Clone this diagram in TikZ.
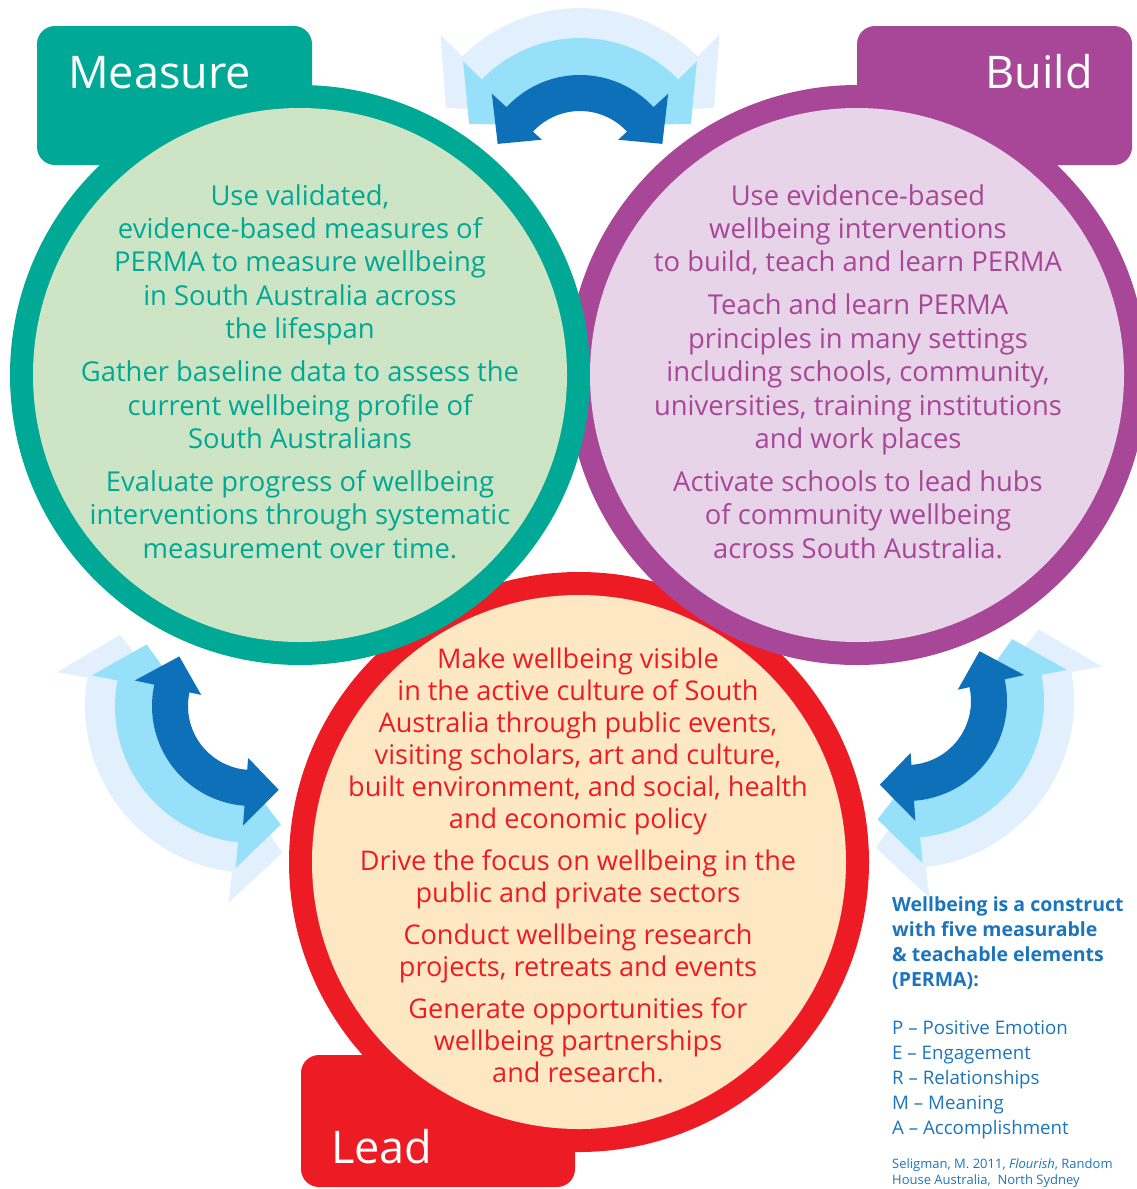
\documentclass[tikz,border=0pt]{standalone}
\usepackage{fontspec}
\setmainfont{Open Sans}
\definecolor{mteal}{RGB}{0,168,150}
\definecolor{mgreen}{RGB}{206,229,197}
\definecolor{bpurple}{RGB}{168,71,152}
\definecolor{blilac}{RGB}{231,212,232}
\definecolor{lred}{RGB}{237,28,36}
\definecolor{lpeach}{RGB}{254,232,196}
\definecolor{sblue}{RGB}{28,117,188}
\definecolor{adark}{RGB}{13,112,185}
\definecolor{alight}{RGB}{150,224,250}
\definecolor{avlight}{RGB}{225,240,252}
\newcommand{\darkdims}{\def\arRi{64}\def\arRo{100}\def\arRbi{52}\def\arRbo{120}\def\arRt{88}\def\arHh{22}\def\arShr{0}}
\newcommand{\lightdims}{\def\arRi{88}\def\arRo{137}\def\arRbi{72}\def\arRbo{163}\def\arRt{122}\def\arHh{19.5}\def\arShr{1.5}}
\newcommand{\vlightdims}{\def\arRi{107}\def\arRo{167}\def\arRbi{88}\def\arRbo{198}\def\arRt{150}\def\arHh{18.5}\def\arShr{2.5}}
\newcommand{\carrow}[4]{%
  \pgfmathsetmacro{\arA}{#2+\arShr}%
  \pgfmathsetmacro{\arB}{#3-\arShr}%
  \fill[#4, shift={#1}] (\arA:\arRo) arc[start angle=\arA, end angle=\arB, radius=\arRo]
    -- (\arB:\arRbo) -- ({\arB+\arHh}:\arRt) -- (\arB:\arRbi) -- (\arB:\arRi)
    arc[start angle=\arB, end angle=\arA, radius=\arRi]
    -- (\arA:\arRbi) -- ({\arA-\arHh}:\arRt) -- (\arA:\arRbo) -- cycle;
}
\begin{document}
\begin{tikzpicture}[x=1pt,y=-1pt,
  titletext/.style={text=white, font=\fontsize{45}{54}\selectfont, inner sep=0pt},
  bodytext/.style={align=center, inner sep=0pt, font=\fontsize{27.4}{33.4}\selectfont},
  leadtext/.style={align=center, inner sep=0pt, font=\fontsize{27.1}{32}\selectfont, text=lred},
  sidebold/.style={align=left, inner sep=0pt, text=sblue, font=\bfseries\fontsize{19.5}{25}\selectfont},
  sidelist/.style={align=left, inner sep=0pt, text=sblue, font=\fontsize{18.7}{24.8}\selectfont},
  sidecite/.style={align=left, inner sep=0pt, text=sblue, font=\fontsize{13}{16}\selectfont}]
\useasboundingbox (0,0) rectangle (1137,1189);
\clip (0,0) rectangle (1137,1189);

% ---- arrows (back to front) ----
\vlightdims
\carrow{(580,175)}{-137.3}{-42.7}{avlight}
\carrow{(252,706)}{94.3}{192.3}{avlight}
\carrow{(907,701)}{-12.5}{86}{avlight}
\lightdims
\carrow{(580,175)}{-137.3}{-42.7}{alight}
\carrow{(252,706)}{94.3}{192.3}{alight}
\carrow{(907,701)}{-12.5}{86}{alight}
\darkdims
\carrow{(580,175)}{-137.3}{-42.7}{adark}
\carrow{(252,706)}{94.3}{192.3}{adark}
\carrow{(907,701)}{-12.5}{86}{adark}

% ---- rings and tabs ----
\fill[lred, rounded corners=18] (301,1055) rectangle (575,1187);
\fill[lred] (579,862) circle[radius=290];
\fill[bpurple, rounded corners=18] (857,26) rectangle (1132,165);
\fill[bpurple] (857,375) circle[radius=290];
\fill[mteal, rounded corners=18] (37,26) rectangle (312,165);
\fill[mteal] (300,375) circle[radius=290];

% ---- inner fills ----
\fill[lpeach] (579,862) circle[radius=267];
\fill[blilac] (857,375) circle[radius=267];
\fill[mgreen] (300,375) circle[radius=267];

% ---- titles ----
\node[titletext, anchor=base west] (tmeasure) at (68,88) {Measure};
\node[titletext, anchor=base east] (tbuild) at (1093,88) {Build};
\node[titletext, anchor=base west] (tlead) at (331,1163) {Lead};

% ---- body texts ----
\node[bodytext, text=mteal, anchor=north] (measuretext) at (300,184)
 {Use validated,\\evidence-based measures of\\PERMA to measure wellbeing\\in South Australia across\\the lifespan\\[9.6pt]Gather baseline data to assess the\\current wellbeing profile of\\South Australians\\[9.6pt]Evaluate progress of wellbeing\\interventions through systematic\\measurement over time.};
\node[bodytext, text=bpurple, anchor=north] (buildtext) at (858,184)
 {Use evidence-based\\wellbeing interventions\\to build, teach and learn PERMA\\[9.6pt]Teach and learn PERMA\\principles in many settings\\including schools, community,\\universities, training institutions\\and work places\\[9.6pt]Activate schools to lead hubs\\of community wellbeing\\across South Australia.};
\node[leadtext, anchor=north] (leadtext) at (578,648)
 {Make wellbeing visible\\in the active culture of South\\Australia through public events,\\visiting scholars, art and culture,\\built environment, and social, health\\and economic policy\\[10pt]Drive the focus on wellbeing in the\\public and private sectors\\[10pt]Conduct wellbeing research\\projects, retreats and events\\[10pt]Generate opportunities for\\wellbeing partnerships\\and research.};

% ---- side text ----
\node[sidebold, anchor=north west] (permahead) at (892,896)
 {Wellbeing is a construct\\with five measurable\\\& teachable elements\\(PERMA):};
\node[sidelist, anchor=north west] (permalist) at (892,1021)
 {P – Positive Emotion\\E – Engagement\\R – Relationships\\M – Meaning\\A – Accomplishment};
\node[sidecite, anchor=north west] (permacite) at (892,1158)
 {Seligman, M. 2011, \textit{Flourish}, Random\\House Australia,\ \ North Sydney};
\end{tikzpicture}
\end{document}
